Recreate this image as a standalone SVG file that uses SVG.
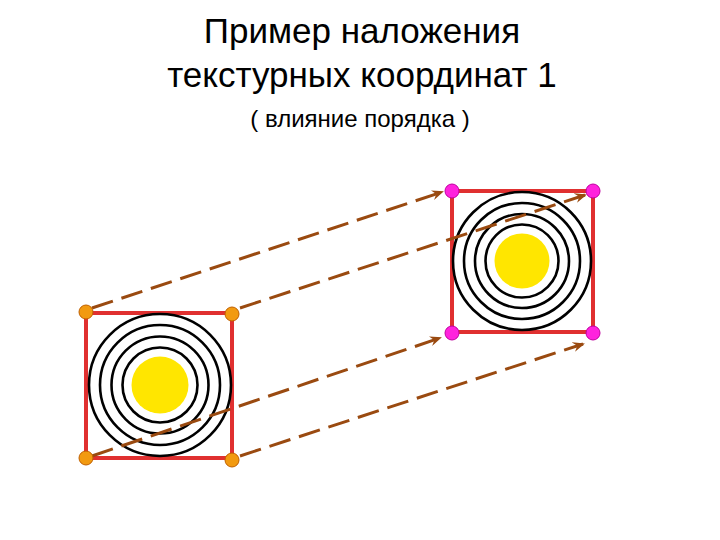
<svg xmlns="http://www.w3.org/2000/svg" width="720" height="540" viewBox="0 0 720 540">
<style>
.t{font-family:"Liberation Sans",Arial,sans-serif;fill:#000;text-anchor:middle}
.ring{fill:none;stroke:#000;stroke-width:2.6}
.sq{fill:#fff;stroke:#e03030;stroke-width:4}
.sun{fill:#ffe600}
.c{stroke:#9a4a10;stroke-width:3;stroke-dasharray:22 9;fill:none;marker-end:url(#ah)}
.o{fill:#f29a10;stroke:#c06000;stroke-width:1}
.m{fill:#ff22dd;stroke:#c000a0;stroke-width:1}
</style>
<defs>
<marker id="ah" markerWidth="12" markerHeight="10" refX="10" refY="5" orient="auto" markerUnits="userSpaceOnUse">
<path d="M0,0 L12,5 L0,10 L4,5 Z" fill="#9a4a10"/>
</marker>
</defs>
<text class="t" x="362" y="43" font-size="35">Пример наложения</text>
<text class="t" x="362" y="87" font-size="35">текстурных координат 1</text>
<text class="t" x="360" y="127" font-size="24">( влияние порядка )</text>
<g id="tex1">
<rect class="sq" x="86" y="313" width="146" height="145"/>
<circle class="ring" cx="160" cy="385" r="71"/>
<circle class="ring" cx="160" cy="385" r="60"/>
<circle class="ring" cx="160" cy="385" r="48.5"/>
<circle class="ring" cx="160" cy="385" r="37.5"/>
<circle class="sun" cx="160" cy="385" r="28.5"/>
</g>
<g id="tex2">
<rect class="sq" x="452" y="191" width="141" height="141"/>
<circle class="ring" cx="522" cy="261" r="69"/>
<circle class="ring" cx="522" cy="261" r="58"/>
<circle class="ring" cx="522" cy="261" r="47"/>
<circle class="ring" cx="522" cy="261" r="36.5"/>
<circle class="sun" cx="522" cy="261" r="27.5"/>
</g>
<g id="connectors">
<line class="c" x1="92" y1="308" x2="442" y2="192"/>
<line class="c" x1="240" y1="308" x2="585" y2="195"/>
<line class="c" x1="92" y1="456" x2="440" y2="338"/>
<line class="c" x1="240" y1="456" x2="583" y2="344"/>
</g>
<g id="pts">
<circle class="o" cx="86" cy="312" r="7"/>
<circle class="o" cx="232" cy="314" r="7"/>
<circle class="o" cx="86" cy="458" r="7"/>
<circle class="o" cx="232" cy="460" r="7"/>
<circle class="m" cx="452" cy="191" r="7"/>
<circle class="m" cx="593" cy="191" r="7"/>
<circle class="m" cx="452" cy="333" r="7"/>
<circle class="m" cx="593" cy="333" r="7"/>
</g>
</svg>
